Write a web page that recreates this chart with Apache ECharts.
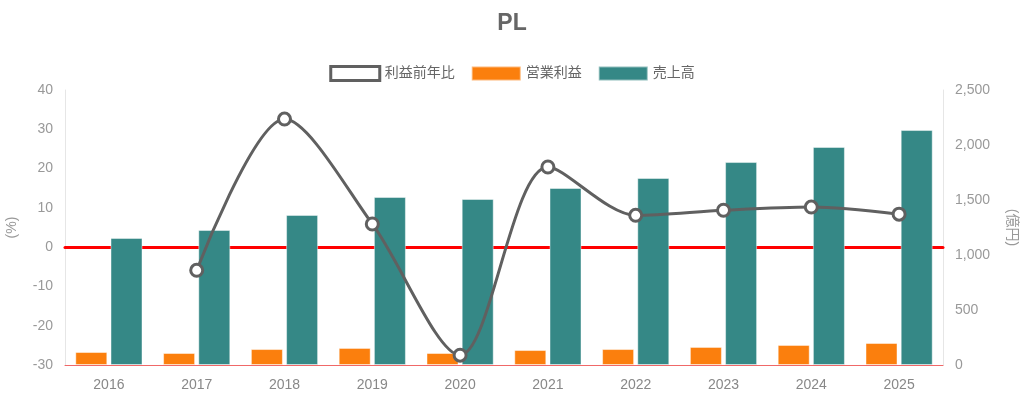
<!DOCTYPE html>
<html><head><meta charset="utf-8">
<script src="https://cdn.jsdelivr.net/npm/echarts@6/dist/echarts.min.js"></script>
<style>html,body{margin:0;padding:0;background:#fff}#c{width:1024px;height:399px}</style>
</head><body><div id="c"></div>
<script>
const years = ['2016','2017','2018','2019','2020','2021','2022','2023','2024','2025'];
const profitGrowth = [null, -5.9, 32.6, 5.9, -27.5, 20.4, 8.1, 9.4, 10.2, 8.4];
const operatingProfit = [118, 109, 145, 155, 109, 136, 145, 164, 182, 200];
const sales = [1155, 1227, 1364, 1527, 1509, 1609, 1700, 1845, 1982, 2136];
const leftTicks = {min: -30, max: 40, interval: 10};
const rightTicks = {min: 0, max: 2500, interval: 500};

const chart = echarts.init(document.getElementById('c'), null, {renderer: 'canvas'});
const font = '"Liberation Sans", Arial, "Noto Sans CJK JP", sans-serif';
chart.setOption({
  animation: false,
  textStyle: {fontFamily: font},
  title: {text: 'PL', left: 'center', top: 7, textStyle: {fontSize: 23, fontWeight: 'bold', color: '#666', fontFamily: font}},
  legend: {
    top: 60, left: 'center', itemWidth: 49, itemHeight: 14, itemGap: 16,
    textStyle: {color: '#666', fontSize: 14, fontFamily: font},
    data: [
      {name: '利益前年比', icon: 'rect', itemStyle: {color: '#fff', borderColor: '#606060', borderWidth: 3}},
      {name: '営業利益', icon: 'rect'},
      {name: '売上高', icon: 'rect'}
    ]
  },
  grid: {left: 65, right: 81, top: 90, bottom: 34, outerBoundsMode: 'none', containLabel: false},
  xAxis: [
    {
      type: 'category', data: years,
      axisLine: {onZero: false, lineStyle: {color: '#f06868', width: 1}},
      axisTick: {show: false},
      axisLabel: {color: '#888', fontSize: 14, margin: 13}
    },
    {
      type: 'category', data: years, position: 'bottom',
      axisLine: {show: true, onZero: true, onZeroAxisIndex: 0, lineStyle: {color: '#ff0000', width: 3}},
      axisTick: {show: false}, axisLabel: {show: false}, splitLine: {show: false}
    }
  ],
  yAxis: [
    {
      type: 'value', min: leftTicks.min, max: leftTicks.max, interval: leftTicks.interval,
      name: '(%)', nameLocation: 'middle', nameGap: 46, nameRotate: 90,
      nameTextStyle: {color: '#999', fontSize: 14},
      axisLine: {show: true, onZero: false, lineStyle: {color: '#e6e6e6'}},
      axisTick: {show: false}, splitLine: {show: false},
      axisLabel: {color: '#999', fontSize: 14, margin: 12}
    },
    {
      type: 'value', min: rightTicks.min, max: rightTicks.max, interval: rightTicks.interval,
      name: '(億円)', nameLocation: 'middle', nameGap: 62, nameRotate: -90,
      nameTextStyle: {color: '#999', fontSize: 14},
      axisLine: {show: true, onZero: false, lineStyle: {color: '#e6e6e6'}},
      axisTick: {show: false}, splitLine: {show: false},
      axisLabel: {color: '#999', fontSize: 14, margin: 12,
        formatter: v => v.toLocaleString('en-US')}
    }
  ],
  series: [
    {
      name: '営業利益', type: 'bar', yAxisIndex: 1, data: operatingProfit, z: 3,
      barWidth: 32, barGap: '10%',
      itemStyle: {color: '#fb7f0d', borderColor: 'rgba(255,255,255,0.45)', borderWidth: 1}
    },
    {
      name: '売上高', type: 'bar', yAxisIndex: 1, data: sales, z: 3,
      barWidth: 32, barGap: '10%',
      itemStyle: {color: '#358886', borderColor: 'rgba(255,255,255,0.45)', borderWidth: 1}
    },
    {
      name: '利益前年比', type: 'line', yAxisIndex: 0, data: profitGrowth, z: 5,
      smooth: 0.3, connectNulls: false,
      symbol: 'circle', symbolSize: 12, showSymbol: true,
      lineStyle: {color: '#606060', width: 3},
      itemStyle: {color: '#fff', borderColor: '#606060', borderWidth: 3}
    }
  ]
});
</script></body></html>
